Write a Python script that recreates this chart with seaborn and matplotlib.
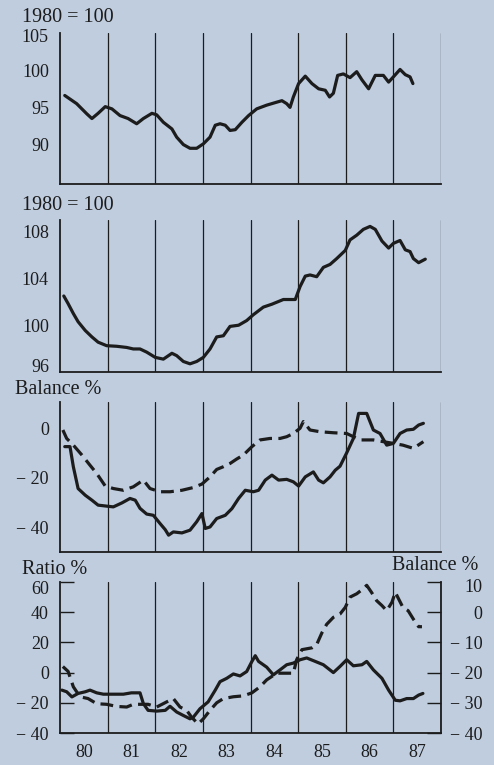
import matplotlib
matplotlib.use("Agg")
import matplotlib.pyplot as plt
import matplotlib.transforms as mtransforms
import seaborn as sns

# Panel 1: index, 1980 = 100
p1_x = [1980.10, 1980.35, 1980.56, 1980.67, 1980.80, 1980.95, 1981.09, 1981.26, 1981.43,
        1981.61, 1981.75, 1981.93, 1982.03, 1982.17, 1982.35, 1982.45, 1982.59, 1982.73,
        1982.87, 1983.01, 1983.15, 1983.26, 1983.36, 1983.47, 1983.57, 1983.68, 1983.82,
        1983.96, 1984.13, 1984.34, 1984.55, 1984.66, 1984.76, 1984.83, 1984.90, 1985.01,
        1985.15, 1985.29, 1985.43, 1985.57, 1985.66, 1985.74, 1985.83, 1985.95, 1986.09,
        1986.23, 1986.34, 1986.48, 1986.62, 1986.79, 1986.90, 1987.00, 1987.14, 1987.25,
        1987.35, 1987.41]
p1_y = [96.6, 95.5, 94.15, 93.5, 94.2, 95.1, 94.8, 93.9, 93.5,
        92.8, 93.5, 94.2, 94.0, 93.0, 92.1, 91.0, 90.0, 89.5,
        89.5, 90.1, 91.0, 92.6, 92.8, 92.6, 91.9, 92.0, 93.0,
        93.9, 94.8, 95.3, 95.7, 95.9, 95.5, 95.0, 96.4, 98.2,
        99.2, 98.2, 97.5, 97.3, 96.4, 96.9, 99.3, 99.5, 99.0,
        99.8, 98.7, 97.5, 99.3, 99.3, 98.4, 99.1, 100.1, 99.4,
        99.1, 98.2]

# Panel 2: index, 1980 = 100
p2_x = [1980.08, 1980.17, 1980.28, 1980.38, 1980.53, 1980.67, 1980.80, 1980.98, 1981.19,
        1981.40, 1981.54, 1981.68, 1981.82, 1982.00, 1982.17, 1982.35, 1982.45, 1982.59,
        1982.73, 1982.87, 1983.01, 1983.15, 1983.29, 1983.43, 1983.57, 1983.75, 1983.92,
        1984.06, 1984.27, 1984.45, 1984.69, 1984.94, 1985.04, 1985.15, 1985.25, 1985.39,
        1985.53, 1985.67, 1985.81, 1985.99, 1986.09, 1986.23, 1986.37, 1986.51, 1986.62,
        1986.76, 1986.90, 1987.00, 1987.14, 1987.25, 1987.35, 1987.42, 1987.53, 1987.67]
p2_y = [102.5, 101.85, 101.0, 100.3, 99.55, 99.0, 98.55, 98.25, 98.2,
        98.1, 97.97, 97.97, 97.7, 97.25, 97.1, 97.6, 97.4, 96.9,
        96.7, 96.9, 97.25, 97.97, 99.0, 99.1, 99.9, 100.0, 100.4,
        100.9, 101.55, 101.8, 102.2, 102.2, 103.3, 104.2, 104.3, 104.15,
        104.95, 105.2, 105.7, 106.4, 107.3, 107.7, 108.2, 108.45, 108.2,
        107.2, 106.6, 107.0, 107.25, 106.45, 106.3, 105.7, 105.35, 105.65]

# Panel 3: balance %, solid and dashed series
p3_solid_x = [1980.10, 1980.21, 1980.28, 1980.38, 1980.53, 1980.67, 1980.80, 1980.98, 1981.12,
              1981.30, 1981.47, 1981.58, 1981.68, 1981.82, 1981.96, 1982.10, 1982.21, 1982.28,
              1982.38, 1982.56, 1982.73, 1982.87, 1982.98, 1983.05, 1983.15, 1983.29, 1983.47,
              1983.61, 1983.75, 1983.89, 1984.06, 1984.17, 1984.31, 1984.45, 1984.59, 1984.76,
              1984.90, 1985.01, 1985.15, 1985.32, 1985.43, 1985.53, 1985.67, 1985.78, 1985.88,
              1986.02, 1986.16, 1986.27, 1986.44, 1986.58, 1986.72, 1986.86, 1987.00, 1987.14,
              1987.28, 1987.42, 1987.53, 1987.63]
p3_solid_y = [-7.5, -7.5, -15.6, -24.4, -27.1, -29.1, -31.1, -31.5, -31.8,
              -30.2, -28.4, -29.1, -32.4, -34.7, -35.2, -38.5, -41.0, -43.2,
              -41.9, -42.3, -41.2, -37.8, -34.5, -40.5, -39.9, -36.5, -35.2,
              -32.5, -28.4, -25.1, -25.7, -25.1, -21.0, -19.0, -21.0, -20.7,
              -21.7, -23.4, -19.7, -17.7, -21.0, -22.1, -19.7, -17.0, -15.4,
              -10.0, -4.2, 5.9, 5.9, -0.8, -2.2, -6.9, -6.2, -2.2,
              -0.8, -0.5, 1.2, 1.9]
p3_dash_x = [1980.06, 1980.14, 1980.28, 1980.46, 1980.63, 1980.77, 1980.95, 1981.12, 1981.33,
             1981.54, 1981.75, 1981.89, 1982.10, 1982.31, 1982.56, 1982.80, 1982.98, 1983.15,
             1983.29, 1983.43, 1983.57, 1983.71, 1983.85, 1984.03, 1984.20, 1984.41, 1984.62,
             1984.76, 1984.90, 1985.04, 1985.11, 1985.25, 1985.46, 1985.74, 1986.02, 1986.30,
             1986.58, 1986.79, 1987.00, 1987.20, 1987.42, 1987.63]
p3_dash_y = [-0.8, -4.2, -6.9, -10.9, -15.0, -18.3, -23.4, -24.4, -25.1,
             -23.7, -21.0, -24.4, -25.7, -25.7, -25.1, -24.0, -22.6, -19.7,
             -16.7, -15.6, -14.3, -12.5, -10.9, -7.5, -4.8, -4.2, -4.2,
             -3.5, -2.2, -0.1, 2.6, -0.8, -1.5, -1.9, -2.2, -4.8,
             -4.8, -5.5, -6.2, -6.9, -8.2, -5.5]

# Panel 4: ratio % (left axis, solid) and balance % (right axis, dashed)
p4_ratio_x = [1980.04, 1980.14, 1980.25, 1980.38, 1980.53, 1980.63, 1980.77, 1980.91, 1981.12,
              1981.33, 1981.50, 1981.68, 1981.75, 1981.85, 1982.03, 1982.21, 1982.31, 1982.45,
              1982.59, 1982.73, 1982.80, 1982.94, 1983.11, 1983.26, 1983.36, 1983.50, 1983.64,
              1983.78, 1983.92, 1984.03, 1984.10, 1984.17, 1984.34, 1984.48, 1984.62, 1984.76,
              1984.90, 1985.04, 1985.18, 1985.36, 1985.53, 1985.74, 1985.88, 1986.02, 1986.16,
              1986.34, 1986.44, 1986.58, 1986.76, 1986.90, 1987.04, 1987.14, 1987.28, 1987.42,
              1987.53, 1987.62]
p4_ratio_y = [-11.6, -12.7, -16.1, -13.8, -12.7, -11.6, -13.4, -14.3, -14.3,
              -14.3, -13.4, -13.4, -20.5, -25.0, -25.5, -25.0, -22.3, -26.1,
              -28.4, -30.6, -29.5, -23.9, -19.4, -11.6, -6.0, -3.8, -0.9,
              -2.2, 0.7, 7.4, 11.2, 7.4, 3.6, -1.5, 1.8, 5.2,
              6.3, 8.5, 9.7, 7.4, 5.2, 0.0, 4.1, 8.5, 4.5,
              5.2, 7.4, 1.8, -3.8, -11.6, -18.3, -18.7, -17.2, -17.2,
              -14.9, -13.8]
p4_bal_x = [1980.06, 1980.17, 1980.28, 1980.42, 1980.59, 1980.77, 1980.98, 1981.19, 1981.40,
            1981.54, 1981.68, 1981.85, 1982.03, 1982.24, 1982.38, 1982.52, 1982.66, 1982.76,
            1982.90, 1983.01, 1983.15, 1983.29, 1983.43, 1983.64, 1983.85, 1984.03, 1984.20,
            1984.34, 1984.55, 1984.76, 1984.90, 1984.97, 1985.08, 1985.29, 1985.39, 1985.50,
            1985.60, 1985.74, 1985.88, 1985.99, 1986.09, 1986.23, 1986.37, 1986.44, 1986.54,
            1986.65, 1986.76, 1986.86, 1986.97, 1987.04, 1987.11, 1987.20, 1987.31, 1987.42,
            1987.53, 1987.60]
p4_bal_y = [-18.0, -19.6, -24.7, -28.0, -28.6, -30.3, -30.5, -31.2, -31.4,
            -30.5, -30.5, -30.5, -31.4, -29.7, -28.6, -31.4, -32.5, -34.7,
            -37.0, -35.3, -32.5, -30.0, -28.6, -28.0, -27.7, -26.7, -24.7,
            -22.4, -20.2, -20.2, -20.2, -15.7, -12.4, -11.8, -10.7, -6.8,
            -4.0, -1.7, -0.6, 1.6, 5.0, 6.1, 7.8, 8.9, 6.6,
            3.8, 2.2, 0.5, 3.3, 6.6, 4.4, 1.6, 0.5, -2.3,
            -4.8, -4.8]

year_labels = ["80", "81", "82", "83", "84", "85", "86", "87"]
year_starts = [1980, 1981, 1982, 1983, 1984, 1985, 1986, 1987]

BG = "#bfcddf"
INK = "#1c1c1c"
TICK_FS = 13
TITLE_FS = 14.5


def fmt(v):
    return "\u2212 " + str(abs(v)) if v < 0 else str(v)


def style_axis(ax, yticks, ylim):
    ax.set_facecolor(BG)
    ax.set_xlim(1980, 1988)
    ax.set_ylim(*ylim)
    for y in year_starts[1:] + [1988]:
        ax.axvline(y, color=INK, lw=0.9, zorder=1)
    ax.spines["top"].set_visible(False)
    ax.spines["right"].set_visible(False)
    for s in ["left", "bottom"]:
        ax.spines[s].set_color(INK)
        ax.spines[s].set_linewidth(1.3)
    ax.set_yticks(yticks)
    ax.set_yticklabels([fmt(v) for v in yticks])
    ax.tick_params(axis="y", direction="in", length=10, width=1.0, color=INK,
                   pad=8, labelsize=TICK_FS, labelcolor=INK)
    ax.set_xticks([y + 0.5 for y in year_starts])
    ax.set_xticklabels(year_labels)
    ax.tick_params(axis="x", length=0, pad=8, labelsize=TICK_FS, labelcolor=INK)
    ax.set_xlabel("")
    ax.set_ylabel("")


def nudge(fig, label, dy_px):
    # shift one tick label vertically by a few pixels
    off = mtransforms.ScaledTranslation(0, dy_px / fig.dpi, fig.dpi_scale_trans)
    label.set_transform(label.get_transform() + off)


def main():
    sns.set_theme(style="white")
    plt.rcParams["font.family"] = ["Liberation Serif", "DejaVu Serif"]

    fig = plt.figure(figsize=(4.94, 7.65), dpi=100)
    fig.patch.set_facecolor(BG)

    W, H = 494.0, 765.0
    left, width = 60 / W, 381 / W
    boxes = [(33, 184), (220, 372), (402, 552), (582, 733)]
    axes = [fig.add_axes([left, 1 - b / H, width, (b - t) / H]) for t, b in boxes]
    ax1, ax2, ax3, ax4 = axes

    lw = 2.3
    dash = (0, (4, 2))

    sns.lineplot(x=p1_x, y=p1_y, ax=ax1, color=INK, lw=lw)
    style_axis(ax1, [90, 95, 100, 105], (84.7, 105))

    sns.lineplot(x=p2_x, y=p2_y, ax=ax2, color=INK, lw=lw)
    style_axis(ax2, [96, 100, 104, 108], (96, 109))

    sns.lineplot(x=p3_dash_x, y=p3_dash_y, ax=ax3, color=INK, lw=lw, linestyle=dash)
    sns.lineplot(x=p3_solid_x, y=p3_solid_y, ax=ax3, color=INK, lw=lw)
    style_axis(ax3, [-40, -20, 0], (-50, 10.5))

    sns.lineplot(x=p4_ratio_x, y=p4_ratio_y, ax=ax4, color=INK, lw=lw)
    style_axis(ax4, [-40, -20, 0, 20, 40, 60], (-40, 60))

    ax4r = ax4.twinx()
    sns.lineplot(x=p4_bal_x, y=p4_bal_y, ax=ax4r, color=INK, lw=lw, linestyle=dash)
    ax4r.set_ylim(-40, 10)
    rt = [-40, -30, -20, -10, 0, 10]
    ax4r.set_yticks(rt)
    ax4r.set_yticklabels([fmt(v) for v in rt], ha="right")
    ax4r.tick_params(axis="y", direction="in", length=10, width=1.0, color=INK,
                     pad=30, labelsize=TICK_FS, labelcolor=INK)
    for s in ["top", "left", "bottom"]:
        ax4r.spines[s].set_visible(False)
    ax4r.spines["right"].set_color(INK)
    ax4r.spines["right"].set_linewidth(1.3)
    ax4r.set_ylabel("")

    for ax in (ax1, ax2, ax3):
        ax.set_xticklabels([])

    # printed labels sit slightly off their ticks at the panel edges
    nudge(fig, ax1.get_yticklabels()[-1], -3)
    nudge(fig, ax2.get_yticklabels()[0], 6)
    nudge(fig, ax4.get_yticklabels()[-1], -5)
    nudge(fig, ax4r.get_yticklabels()[-1], -4)

    tk = dict(fontsize=TITLE_FS, color=INK, va="center")
    fig.text(22 / W, 1 - 17 / H, "1980 = 100", ha="left", **tk)
    fig.text(22 / W, 1 - 205 / H, "1980 = 100", ha="left", **tk)
    fig.text(15 / W, 1 - 390 / H, "Balance %", ha="left", **tk)
    fig.text(22 / W, 1 - 569 / H, "Ratio %", ha="left", **tk)
    fig.text(478 / W, 1 - 565 / H, "Balance %", ha="right", **tk)

    fig.savefig("out.png", dpi=100, facecolor=BG)


if __name__ == "__main__":
    main()
